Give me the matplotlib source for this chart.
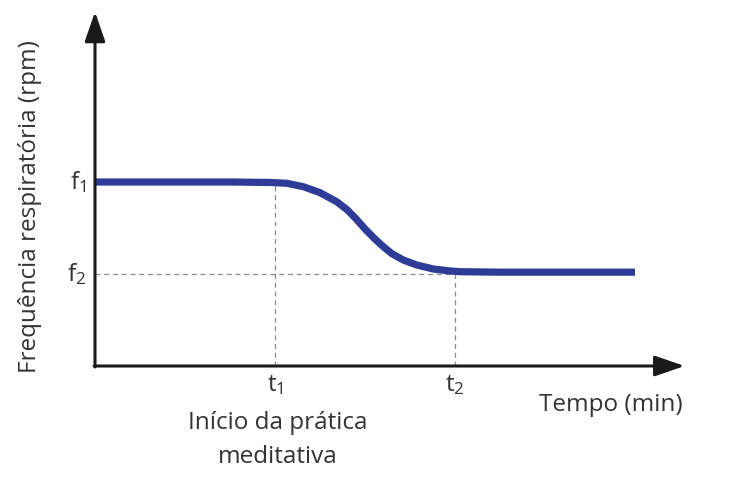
import numpy as np
import matplotlib
matplotlib.use('Agg')
import matplotlib.pyplot as plt

plt.rcParams['font.family'] = ['Open Sans', 'DejaVu Sans']
plt.rcParams['mathtext.default'] = 'regular'

# tempo (unidades arbitrárias) e frequência respiratória
tempo = [0, 1, 2, 3, 3.89, 4.26, 4.63, 5.0, 5.37, 5.6, 5.8, 6.0, 6.2, 6.4,
         6.6, 6.85, 7.15, 7.52, 7.89, 8.11, 9, 10, 11, 12.0]
freq = [20, 20, 20, 20, 19.95, 19.86, 19.49, 18.84, 17.86, 17.0, 16.0, 14.9, 13.9, 13.0,
        12.2, 11.52, 10.98, 10.54, 10.33, 10.25, 10.2, 10.2, 10.2, 10.2]
t1, t2 = 4.0, 8.0
f1, f2 = 20, 10
xmax, ymax = 13.1, 38.5

fig = plt.figure(figsize=(7.35, 4.82), dpi=100)
ax = fig.add_axes([0, 0, 1, 1])
ax.set_xlim(-95 / 45, 640 / 45)
ax.set_ylim(-116 / 9.2, 366 / 9.2)
ax.axis('off')

# linhas tracejadas de referência
dash = dict(color='#8a8a8a', lw=0.9, ls=(0, (4, 3)))
ax.plot([t1, t1], [0, f1], **dash)
ax.plot([t2, t2], [0, f2], **dash)
ax.plot([0, t2], [f2, f2], **dash)

# eixos com setas
arrow = dict(arrowstyle='-|>,head_length=1.3,head_width=0.45', color='#1a1a1a', lw=2.2,
             shrinkA=0, shrinkB=0, mutation_scale=14)
ax.annotate('', xy=(xmax, 0), xytext=(-0.02, 0), arrowprops=arrow)
ax.annotate('', xy=(0, ymax), xytext=(0, -0.1), arrowprops=arrow)

# curva
ax.plot(tempo, freq, color='#2e3c98', lw=5.2, solid_capstyle='butt', solid_joinstyle='round')

txt = dict(color='#333333', fontsize=17.5)
ax.text(-0.2, f1, 'f$_1$', ha='right', va='center', **txt)
ax.text(-0.2, f2, 'f$_2$', ha='right', va='center', **txt)
ax.text(t1, -0.8, 't$_1$', ha='center', va='top', **txt)
ax.text(t2, -0.8, 't$_2$', ha='center', va='top', **txt)
ax.text(t1 + 0.07, -8.0, 'Início da prática\nmeditativa', ha='center', va='center',
        linespacing=1.55, **txt)
ax.text(13.05, -4.2, 'Tempo (min)', ha='right', va='center', **txt)
ax.text(-1.45, 17.3, 'Frequência respiratória (rpm)', rotation=90, ha='center', va='center', **txt)

plt.savefig('out.png', dpi=100)
